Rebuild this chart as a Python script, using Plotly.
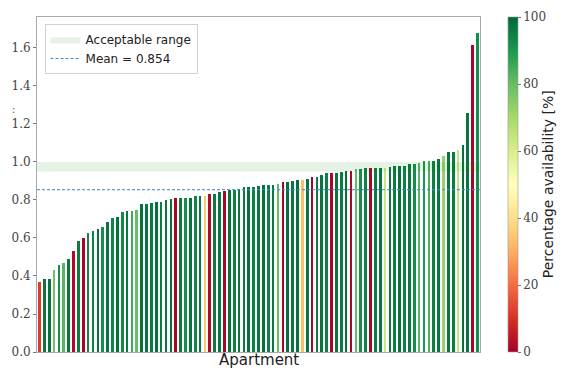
import plotly.graph_objects as go

# Normalised consumption per apartment, sorted ascending
ratio = [
    0.370, 0.384, 0.384, 0.430, 0.458, 0.467, 0.489, 0.532, 0.584, 0.600,
    0.625, 0.639, 0.647, 0.658, 0.682, 0.703, 0.712, 0.735, 0.740, 0.744,
    0.749, 0.777, 0.781, 0.782, 0.791, 0.791, 0.798, 0.805, 0.809, 0.809,
    0.809, 0.813, 0.822, 0.822, 0.823, 0.832, 0.832, 0.840, 0.847, 0.853,
    0.853, 0.860, 0.871, 0.871, 0.871, 0.874, 0.879, 0.881, 0.881, 0.886,
    0.894, 0.895, 0.900, 0.903, 0.905, 0.910, 0.920, 0.923, 0.932, 0.940,
    0.940, 0.944, 0.945, 0.950, 0.951, 0.963, 0.964, 0.967, 0.967, 0.967,
    0.970, 0.970, 0.974, 0.977, 0.977, 0.981, 0.991, 0.991, 0.996, 1.003,
    1.007, 1.007, 1.014, 1.032, 1.053, 1.053, 1.061, 1.088, 1.260, 1.616,
    1.681,
]

# Data availability of each apartment [%]
availability = [
    12, 97, 98, 78, 92, 82, 97, 2, 96, 1,
    94, 95, 98, 92, 97, 94, 98, 93, 97, 85,
    80, 98, 97, 96, 98, 96, 97, 98, 1, 96,
    92, 98, 94, 97, 35, 2, 96, 97, 1, 98,
    95, 97, 96, 98, 95, 97, 98, 95, 97, 80,
    1, 98, 97, 98, 33, 97, 1, 96, 97, 95,
    1, 97, 96, 98, 1, 80, 92, 95, 1, 96,
    97, 63, 97, 96, 98, 95, 97, 92, 82, 90,
    84, 95, 97, 72, 97, 96, 64, 98, 97, 1,
    92,
]

acceptable_range = [0.95, 1.0]
mean_ratio = 0.854

y_ticks = [0.0, 0.2, 0.4, 0.6, 0.8, 1.0, 1.2, 1.4, 1.6]
cbar_ticks = [0, 20, 40, 60, 80, 100]

apartments = list(range(len(ratio)))
x_lo, x_hi = -0.5, len(ratio) - 0.5

serif = "DejaVu Serif"
sans = "DejaVu Sans"

fig = go.Figure()

fig.add_trace(go.Bar(
    x=apartments,
    y=ratio,
    width=0.55,
    marker=dict(
        color=availability,
        colorscale="RdYlGn",
        cmin=0,
        cmax=100,
        line=dict(width=0),
        showscale=True,
        colorbar=dict(
            x=1.063,
            xanchor="left",
            y=0,
            yanchor="bottom",
            len=1,
            lenmode="fraction",
            thickness=10,
            thicknessmode="pixels",
            xpad=0,
            ypad=0,
            outlinewidth=0.6,
            outlinecolor="#999",
            tickmode="array",
            tickvals=cbar_ticks,
            ticktext=[str(t) for t in cbar_ticks],
            ticks="outside",
            ticklen=3,
            tickcolor="#777",
            tickfont=dict(family=serif, size=12, color="#444"),
        ),
    ),
    showlegend=False,
    hoverinfo="skip",
))

# Acceptable band drawn over the bars
fig.add_trace(go.Scatter(
    x=[x_lo, x_hi, x_hi, x_lo, x_lo],
    y=[acceptable_range[0], acceptable_range[0], acceptable_range[1],
       acceptable_range[1], acceptable_range[0]],
    mode="lines",
    fill="toself",
    fillcolor="rgba(0,128,0,0.10)",
    line=dict(width=0, color="rgba(0,128,0,0.10)"),
    name="Acceptable range",
    hoverinfo="skip",
))

fig.add_trace(go.Scatter(
    x=[x_lo, x_hi],
    y=[mean_ratio, mean_ratio],
    mode="lines",
    line=dict(color="#3f86c8", width=1, dash="3px,2px"),
    name=f"Mean = {mean_ratio:.3f}",
    hoverinfo="skip",
))

fig.update_layout(
    width=563,
    height=368,
    margin=dict(l=37, r=83, t=17, b=16, autoexpand=False),
    paper_bgcolor="white",
    plot_bgcolor="white",
    bargap=0,
    legend=dict(
        x=0.017,
        y=0.979,
        xanchor="left",
        yanchor="top",
        bgcolor="rgba(255,255,255,0.85)",
        bordercolor="#d0d0d0",
        borderwidth=1,
        font=dict(family=sans, size=12, color="#222"),
        itemwidth=30,
        tracegroupgap=2,
    ),
    xaxis=dict(
        range=[x_lo, x_hi],
        showticklabels=False,
        ticks="",
        showgrid=False,
        zeroline=False,
        showline=True,
        linecolor="#aaa",
        linewidth=1,
        mirror=True,
    ),
    yaxis=dict(
        range=[0, 1.763],
        tickmode="array",
        tickvals=y_ticks,
        ticktext=[f"{v:.1f}" for v in y_ticks],
        ticks="outside",
        ticklen=3,
        tickcolor="#777",
        tickfont=dict(family=serif, size=12, color="#444"),
        showgrid=False,
        zeroline=False,
        showline=True,
        linecolor="#aaa",
        linewidth=1,
        mirror=True,
    ),
    annotations=[
        dict(
            text="Apartment",
            x=0.5, y=-0.024,
            xref="paper", yref="paper",
            xanchor="center", yanchor="middle",
            showarrow=False,
            font=dict(family=sans, size=15, color="#222"),
        ),
        dict(
            text="Percentage availability [%]",
            x=1.153, y=0.5,
            xref="paper", yref="paper",
            xanchor="center", yanchor="middle",
            textangle=-90,
            showarrow=False,
            font=dict(family=sans, size=14, color="#222"),
        ),
        dict(
            text=":",
            x=-0.053, y=0.725,
            xref="paper", yref="paper",
            xanchor="center", yanchor="middle",
            showarrow=False,
            font=dict(family=sans, size=10, color="#444"),
        ),
    ],
)

fig.write_html("out.html")
